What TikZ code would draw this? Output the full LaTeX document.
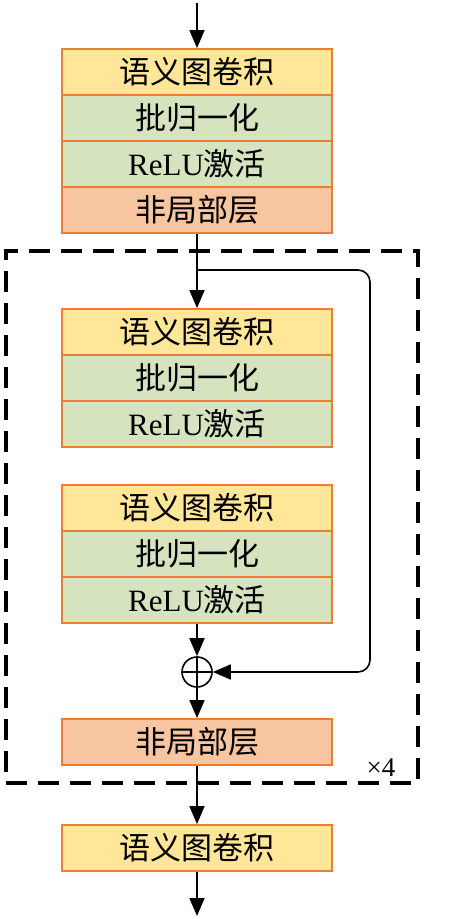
\documentclass[tikz,border=0pt]{standalone}
\usepackage{fontspec}
\setmainfont{Liberation Serif}
\newfontfamily\cjk{Noto Sans CJK SC}
\usetikzlibrary{arrows.meta}
\definecolor{boxline}{HTML}{ED7D31}
\definecolor{yel}{HTML}{FFE699}
\definecolor{grn}{HTML}{D6E3BF}
\definecolor{org}{HTML}{F7C6A1}
\begin{document}
\begin{tikzpicture}[x=1pt,y=-1pt,
  layer/.style={draw=boxline,line width=1.8pt,minimum width=270pt,minimum height=46pt,inner sep=0pt,
    font=\fontsize{31}{33}\selectfont},
  gcn/.style={layer,fill=yel},
  bnr/.style={layer,fill=grn},
  nlb/.style={layer,fill=org},
  tip/.style={-{Triangle[length=18pt,width=15pt]}},
  flow/.style={line width=1.8pt,tip},
  loopframe/.style={draw,line width=3.6pt,dash pattern=on 21pt off 11pt,minimum width=412pt,minimum height=532pt,inner sep=0pt}
]
\useasboundingbox (0,0) rectangle (461,919);
% frame
\node[loopframe] (loop) at (212,517) {};
\node[font=\fontsize{27}{29}\selectfont,anchor=base] (times) at (381,776) {×4};
% top block
\node[gcn] (g1) at (197,72) {\cjk 语义图卷积};
\node[bnr] (b1) at (197,118) {\cjk 批归一化};
\node[bnr] (r1) at (197,164) {ReLU{\cjk 激活}};
\node[nlb] (n1) at (197,210) {\cjk 非局部层};
% loop blocks
\node[gcn] (g2) at (197,332) {\cjk 语义图卷积};
\node[bnr] (b2) at (197,378) {\cjk 批归一化};
\node[bnr] (r2) at (197,424) {ReLU{\cjk 激活}};
\node[gcn] (g3) at (197,508) {\cjk 语义图卷积};
\node[bnr] (b3) at (197,554) {\cjk 批归一化};
\node[bnr] (r3) at (197,600) {ReLU{\cjk 激活}};
\node[circle,draw,line width=1.6pt,minimum size=30pt,inner sep=0pt] (add) at (197,672) {};
\draw[line width=1.6pt] (add.north) -- (add.south) (add.west) -- (add.east);
\node[nlb] (n2) at (197,742) {\cjk 非局部层};
\node[gcn] (g4) at (197,848) {\cjk 语义图卷积};
% connectors
\coordinate (in) at (197,3);
\coordinate (out) at (197,916);
\coordinate (split) at (197,270);
\coordinate (turn1) at (370,270);
\coordinate (turn2) at (370,672);
\draw[flow] (in) -- (g1.north);
\draw[flow] (n1.south) -- (g2.north);
\draw[line width=1.6pt,rounded corners=12pt,tip] (split) -- (turn1) -- (turn2) -- (add.east);
\draw[flow] (r3.south) -- (add.north);
\draw[flow] (add.south) -- (n2.north);
\draw[flow] (n2.south) -- (g4.north);
\draw[flow] (g4.south) -- (out);
\end{tikzpicture}
\end{document}
